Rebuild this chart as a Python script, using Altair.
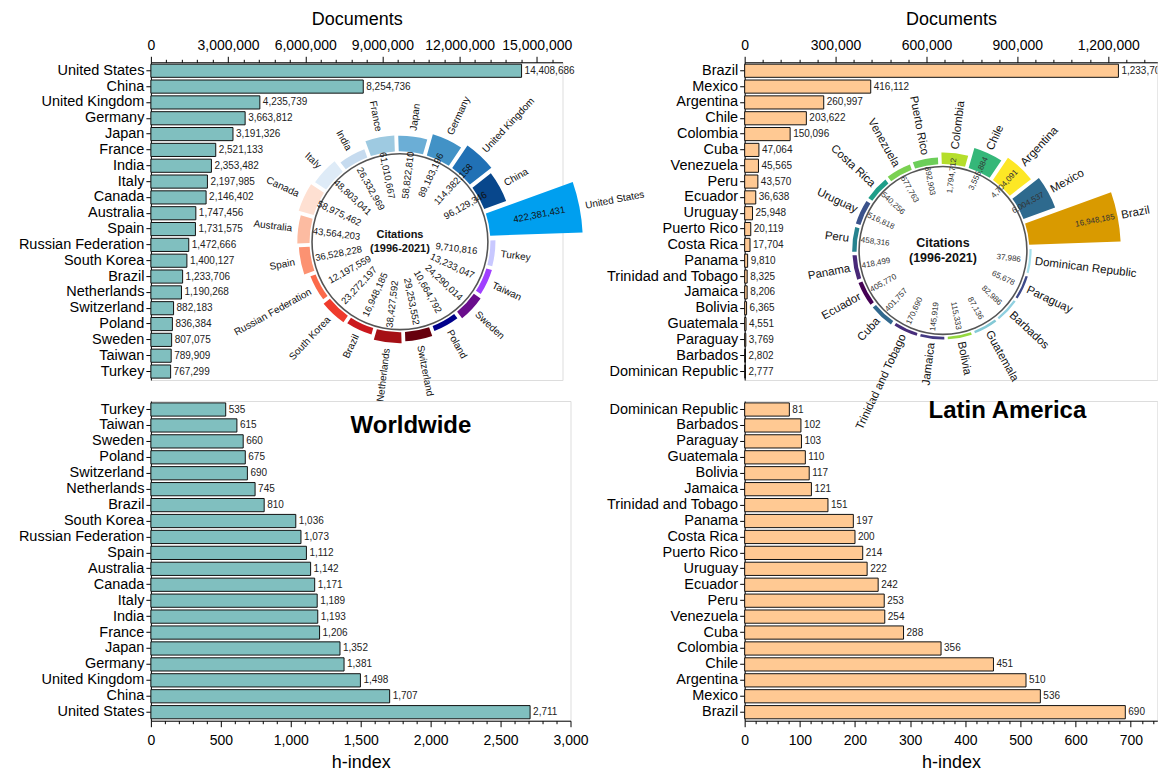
import math
import altair as alt
import pandas as pd

FONT = "Liberation Sans"

# ---------------- Worldwide ----------------
world_countries = ["United States", "China", "United Kingdom", "Germany", "Japan", "France",
                   "India", "Italy", "Canada", "Australia", "Spain", "Russian Federation",
                   "South Korea", "Brazil", "Netherlands", "Switzerland", "Poland", "Sweden",
                   "Taiwan", "Turkey"]
world_documents = [14408686, 8254736, 4235739, 3663812, 3191326, 2521133, 2353482, 2197985,
                   2146402, 1747456, 1731575, 1472666, 1400127, 1233706, 1190268, 882183,
                   836384, 807075, 789909, 767299]
world_hindex = [2711, 1707, 1498, 1381, 1352, 1206, 1193, 1189, 1171, 1142, 1112, 1073, 1036,
                810, 745, 690, 675, 660, 615, 535]
world_citations = [422381431, 96129346, 114382158, 89183196, 58822810, 61010667, 26332969,
                   48803041, 58975462, 43564203, 36528228, 12197559, 23272197, 16948185,
                   38427592, 29253552, 10664792, 24290014, 13233047, 9710816]
world_colors = ["#009FEF", "#08478C", "#2171B5", "#4292C6", "#6BAED6", "#9ECAE1", "#C6DBEF",
                "#DEEBF7", "#FEE0D2", "#FCBBA1", "#FC9272", "#FB6A4A", "#EF3B2C", "#CB181D",
                "#A50F15", "#67000D", "#00008B", "#6A0D8C", "#A040FF", "#C8C8FF"]

# ---------------- Latin America ----------------
latam_countries = ["Brazil", "Mexico", "Argentina", "Chile", "Colombia", "Cuba", "Venezuela",
                   "Peru", "Ecuador", "Uruguay", "Puerto Rico", "Costa Rica", "Panama",
                   "Trinidad and Tobago", "Jamaica", "Bolivia", "Guatemala", "Paraguay",
                   "Barbados", "Dominican Republic"]
latam_documents = [1233706, 416112, 260997, 203622, 150096, 47064, 45565, 43570, 36638, 25948,
                   20119, 17704, 9810, 8325, 8206, 6365, 4551, 3769, 2802, 2777]
latam_hindex = [690, 536, 510, 451, 356, 288, 254, 253, 242, 222, 214, 200, 197, 151, 121,
                117, 110, 103, 102, 81]
latam_cit_countries = ["Brazil", "Mexico", "Argentina", "Chile", "Colombia", "Puerto Rico",
                       "Venezuela", "Costa Rica", "Uruguay", "Peru", "Panama", "Ecuador", "Cuba",
                       "Trinidad and Tobago", "Jamaica", "Bolivia", "Guatemala", "Barbados",
                       "Paraguay", "Dominican Republic"]
latam_citations = [16948185, 6004537, 4704091, 3555884, 1794712, 892903, 677763, 540256,
                   516818, 458316, 418499, 405770, 401757, 170690, 145919, 115333, 87136,
                   82986, 65678, 37986]
latam_colors = ["#D99A00", "#2E6A8E", "#FDE725", "#35B779", "#B5DE2B", "#6CCE59", "#7AD151",
                "#1F9E89", "#3B528B", "#26828E", "#482878", "#440154", "#31688E", "#472D7B",
                "#443A83", "#95D840", "#84C9D6", "#90D0E0", "#3E4A89", "#A6E0EC"]

# axis tick arrays
world_doc_ticks = list(range(0, 16000001, 600000))
world_h_ticks = list(range(0, 3001, 100))
latam_doc_ticks = list(range(0, 1362001, 60000))
latam_h_ticks = list(range(0, 749, 20))

T0 = 70  # start angle (deg) of the first radial bar


def bar_panel(countries, values, order, domain_max, ticks, major, fill, title, orient,
              lab_pad, title_pad, clip=False):
    df = pd.DataFrame({"country": countries, "value": values})
    tick_size = {"condition": {"test": f"datum.value % {major} === 0", "value": 6}, "value": 3}
    base = alt.Chart(df).encode(
        y=alt.Y("country:N", sort=order,
                scale=alt.Scale(paddingInner=0.17, paddingOuter=0.12),
                axis=alt.Axis(title=None, labelFontSize=14.5, labelPadding=2, tickSize=5,
                              domainColor="black", tickColor="black", labelColor="black",
                              labelFont=FONT, labelLimit=300)),
        x=alt.X("value:Q", scale=alt.Scale(domain=[0, domain_max], nice=False, zero=True),
                axis=alt.Axis(orient=orient, values=ticks, title=title,
                              labelExpr=f"datum.value % {major} === 0 ? format(datum.value, ',') : ''",
                              tickSize=tick_size, labelFlush=False, labelOverlap=False,
                              labelFontSize=14, labelPadding=lab_pad, titleFontSize=18,
                              titleFontWeight="normal", titlePadding=title_pad, grid=False,
                              domainColor="black", tickColor="black", labelColor="black",
                              titleColor="black", labelFont=FONT, titleFont=FONT)),
    )
    bars = base.mark_bar(fill=fill, stroke="#111111", strokeWidth=1)
    labels = base.mark_text(align="left", baseline="middle", dx=3, fontSize=10, font=FONT,
                            color="#222222", clip=clip).encode(
        text=alt.Text("value:Q", format=","))
    return bars, labels


def radial_layers(countries, citations, colors, cx, cy, ring_r, bar_in, bar_range,
                  lab_range, name_size, name_off, val_size, val_color, center_size, line_h):
    n = len(countries)
    df = pd.DataFrame({"country": countries, "cit": citations, "rank": list(range(n))})
    th_scale = alt.Scale(domain=[0, n], range=[math.radians(T0), math.radians(T0) + 2 * math.pi])
    maxc = max(citations)
    base = alt.Chart(df).transform_calculate(
        ord=f"({n} - datum.rank) % {n}"
    ).transform_calculate(
        t0="datum.ord", t1="datum.ord + 1", tm="datum.ord + 0.5"
    ).transform_calculate(
        tc=f"({T0} + datum.tm * {360 / n}) % 360"
    ).transform_calculate(
        right="datum.tc < 180",
        ang="datum.tc < 180 ? datum.tc + 270 : datum.tc + 90",
    )
    xy = dict(x=alt.value(cx), y=alt.value(cy))
    ring = alt.Chart(alt.Data(values=[{"a": 1}])).mark_arc(
        radius=ring_r + 0.8, radius2=ring_r - 0.8, theta=0, theta2=2 * math.pi,
        color="#555555").encode(**xy)
    arcs = base.mark_arc(padAngle=0.028).encode(
        theta=alt.Theta("t0:Q", scale=th_scale, stack=False),
        theta2=alt.Theta2("t1:Q"),
        radius=alt.Radius("cit:Q", scale=alt.Scale(domain=[0, maxc], range=bar_range)),
        radius2=alt.value(bar_in),
        color=alt.Color("country:N", scale=alt.Scale(domain=countries, range=colors),
                        legend=None),
        **xy,
    )
    names = []
    for cond, al in (("datum.right", "left"), ("!datum.right", "right")):
        names.append(base.transform_filter(cond).mark_text(
            align=al, baseline="middle", radiusOffset=name_off, fontSize=name_size,
            font=FONT, color="#111111").encode(
            theta=alt.Theta("tm:Q", scale=th_scale, stack=False),
            radius=alt.Radius("cit:Q", scale=alt.Scale(domain=[0, maxc], range=bar_range)),
            angle=alt.Angle("ang:Q", scale=None),
            text="country:N",
            **xy,
        ))
    vals = base.mark_text(align="center", baseline="middle", fontSize=val_size, font=FONT,
                          color=val_color).encode(
        theta=alt.Theta("tm:Q", scale=th_scale, stack=False),
        radius=alt.Radius("cit:Q", scale=alt.Scale(domain=[0, maxc], range=lab_range)),
        angle=alt.Angle("ang:Q", scale=None),
        text=alt.Text("cit:Q", format=","),
        **xy,
    )
    center = alt.Chart(alt.Data(values=[{"a": 1}])).mark_text(
        text=["Citations", "(1996-2021)"], fontSize=center_size, fontWeight="bold",
        font=FONT, lineHeight=line_h, align="center", baseline="middle", dy=-line_h / 2,
        color="#111111").encode(**xy)
    return [ring, arcs] + names + [vals, center]


def label(text, x, y):
    return alt.Chart(alt.Data(values=[{"a": 1}])).mark_text(
        text=text, fontSize=24, fontWeight="bold", font=FONT, align="center",
        baseline="middle", color="black").encode(x=alt.value(x), y=alt.value(y))


# panels
W_TL, W_TR, W_BL, W_BR = 412, 413, 420, 413
H_T, H_B = 318, 320

tl_bars, tl_lab = bar_panel(world_countries, world_documents, world_countries, 16000000,
                            world_doc_ticks, 3000000, "#80BFBF", "Documents", "top", 4, 10)
tl = alt.layer(tl_bars, tl_lab,
               *radial_layers(world_countries, world_citations, world_colors, 249.3, 179.6,
                              88, 90.5, [93.5, 183], [55, 142], 10, 6, 9.5, "#111111", 11, 14)
               ).resolve_scale(radius="independent").properties(width=W_TL, height=H_T)

tr_bars, tr_lab = bar_panel(latam_countries, latam_documents, latam_countries, 1362000,
                            latam_doc_ticks, 300000, "#FFC993", "Documents", "top", 4, 10,
                            clip=True)
tr = alt.layer(tr_bars, tr_lab,
               *radial_layers(latam_cit_countries, latam_citations, latam_colors, 198.5, 188.3,
                              84, 86.5, [88.5, 178], [66, 155], 11.5, 4, 8, "#333333", 12.5, 15)
               ).resolve_scale(radius="independent").properties(width=W_TR, height=H_T)

bl_bars, bl_lab = bar_panel(world_countries, world_hindex, world_countries[::-1], 3000,
                            world_h_ticks, 500, "#80BFBF", "h-index", "bottom", 7, 6)
bl = alt.layer(bl_bars, bl_lab, label("Worldwide", 260.3, 25)).properties(width=W_BL, height=H_B)

br_bars, br_lab = bar_panel(latam_countries, latam_hindex, latam_countries[::-1], 748,
                            latam_h_ticks, 100, "#FFC993", "h-index", "bottom", 7, 6)
br = alt.layer(br_bars, br_lab, label("Latin America", 263, 10.3)).properties(width=W_BR, height=H_B)

chart = alt.concat(
    tl, tr, bl, br, columns=2, bounds="flush", spacing={"row": 21, "column": 174.3}
).resolve_scale(
    color="independent"
).properties(
    padding={"left": 9, "top": 1, "right": 0, "bottom": 0}
).configure_view(stroke=None).configure(font=FONT, background="white")

chart.save("out.html", embed_options={"renderer": "svg", "actions": False})
